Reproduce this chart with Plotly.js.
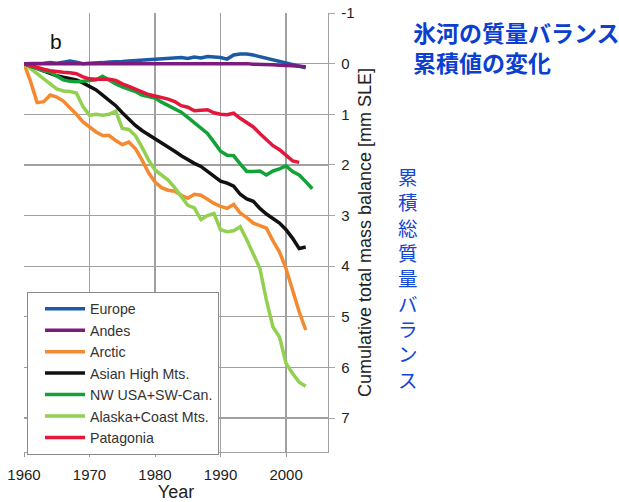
<!DOCTYPE html>
<html>
<head>
<meta charset="utf-8">
<script src="https://cdn.plot.ly/plotly-3.0.1.min.js"></script>
<style>html,body{margin:0;padding:0;background:#fff;}#chart{width:619px;height:502px;}</style>
</head>
<body>
<div id="chart"></div>
<script>
var yearsEurope = [1960,1961,1962,1963,1964,1965,1966,1967,1968,1969,1970,1971,1972,1973,1974,1975,1976,1977,1978,1979,1980,1981,1982,1983,1984,1985,1986,1987,1988,1989,1990,1991,1992,1993,1994,1995,1996,1997,1998,1999,2000,2001,2002,2003];
var europe = [0,0,0,-0.01,-0.02,-0.01,-0.03,-0.05,-0.03,0,-0.01,-0.01,-0.02,-0.03,-0.03,-0.04,-0.05,-0.06,-0.06,-0.08,-0.08,-0.09,-0.1,-0.11,-0.12,-0.1,-0.13,-0.11,-0.14,-0.13,-0.12,-0.09,-0.17,-0.19,-0.19,-0.17,-0.14,-0.1,-0.07,-0.05,-0.02,0.02,0.05,0.08];
var yearsAndes = yearsEurope;
var andes = [0,0,0,0,0,0,0,0,0,0,0,0,0,0,0,0,0,0,0,0,0,-0.01,-0.01,-0.01,-0.01,-0.01,-0.01,-0.01,-0.01,-0.01,-0.01,0,0,0,0,0.01,0.01,0.02,0.02,0.03,0.03,0.04,0.05,0.06];
var yearsArctic = yearsEurope;
var arctic = [0,0.35,0.77,0.75,0.62,0.66,0.74,0.86,1.0,1.15,1.25,1.35,1.42,1.42,1.52,1.6,1.55,1.68,1.9,2.15,2.34,2.45,2.5,2.52,2.6,2.66,2.58,2.6,2.68,2.76,2.82,2.86,2.78,2.95,3.04,3.15,3.2,3.25,3.5,3.72,4.05,4.5,4.9,5.26];
var yearsAsian = yearsEurope;
var asian = [0,0.05,0.1,0.15,0.2,0.24,0.27,0.3,0.32,0.38,0.45,0.52,0.62,0.72,0.83,0.97,1.1,1.22,1.32,1.4,1.47,1.55,1.63,1.73,1.82,1.9,1.97,2.03,2.12,2.22,2.32,2.36,2.42,2.58,2.67,2.72,2.86,2.97,3.06,3.15,3.28,3.45,3.65,3.62];
var yearsNWUSA = [1960,1961,1962,1963,1964,1965,1966,1967,1968,1969,1970,1971,1972,1973,1974,1975,1976,1977,1978,1979,1980,1981,1982,1983,1984,1985,1986,1987,1988,1989,1990,1991,1992,1993,1994,1995,1996,1997,1998,1999,2000,2001,2002,2003,2004];
var nwusa = [0,0.05,0.1,0.14,0.17,0.25,0.32,0.35,0.36,0.35,0.34,0.32,0.25,0.33,0.4,0.46,0.5,0.55,0.62,0.65,0.68,0.76,0.83,0.9,0.96,1.06,1.16,1.26,1.38,1.55,1.73,1.81,1.82,1.98,2.13,2.13,2.12,2.2,2.12,2.08,2.02,2.13,2.2,2.33,2.47];
var yearsAlaska = yearsEurope;
var alaska = [0,0.1,0.2,0.3,0.4,0.5,0.54,0.55,0.58,0.85,1.02,1.0,1.02,1.0,0.94,1.28,1.3,1.42,1.65,1.9,2.1,2.2,2.3,2.45,2.62,2.8,2.85,3.08,3.0,2.96,3.28,3.32,3.3,3.22,3.48,3.75,4.04,4.67,5.2,5.4,5.92,6.12,6.29,6.37];
var yearsPatagonia = [1960,1961,1962,1963,1964,1965,1966,1967,1968,1969,1970,1971,1972,1973,1974,1975,1976,1977,1978,1979,1980,1981,1982,1983,1984,1985,1986,1987,1988,1989,1990,1991,1992,1993,1994,1995,1996,1997,1998,1999,2000,2001,2002];
var patagonia = [0,0.04,0.08,0.11,0.14,0.16,0.17,0.18,0.2,0.26,0.3,0.31,0.31,0.31,0.33,0.4,0.45,0.5,0.56,0.61,0.64,0.67,0.7,0.75,0.83,0.86,0.93,0.92,0.91,0.97,1.0,1.01,0.98,1.08,1.16,1.25,1.38,1.5,1.62,1.7,1.82,1.92,1.95];

var seriesNames = ["Europe","Andes","Arctic","Asian High Mts.","NW USA+SW-Can.","Alaska+Coast Mts.","Patagonia"];
var seriesX = [yearsEurope,yearsAndes,yearsArctic,yearsAsian,yearsNWUSA,yearsAlaska,yearsPatagonia];
var seriesY = [europe,andes,arctic,asian,nwusa,alaska,patagonia];
var seriesColors = ["#1a5ba6","#7b1c7d","#f5892f","#111111","#12a238","#92d050","#e3173b"];

var xTickVals = [1960,1970,1980,1990,2000];
var xTickText = ["1960","1970","1980","1990","2000"];
var yTickVals = [-1,0,1,2,3,4,5,6,7];
var yTickText = ["-1","0","1","2","3","4","5","6","7"];

var titleJa = "氷河の質量バランス<br>累積値の変化";
var sideJa = "累積総質量バランス";
var panelLabel = "b";

var traces = seriesNames.map(function(n,i){
  return {x: seriesX[i], y: seriesY[i], name: n, type: 'scatter', mode: 'lines',
          line: {color: seriesColors[i], width: 3.5}, legendrank: i + 1};
});
// draw order: Europe/Andes on top like the original
var drawOrder = [2,5,3,4,6,0,1];
var ordered = drawOrder.map(function(i){ return traces[i]; });

var L = 24, T = 13, W = 304, H = 439;
function px2x(px){ return (px - L)/W; }
function py2y(py){ return (T + H - py)/H; }

var annotations = [
  {text: panelLabel, xref:'paper', yref:'paper', x: px2x(56), y: py2y(41), xanchor:'center', yanchor:'middle', showarrow:false,
   font:{family:'Liberation Sans, Arial, sans-serif', size:21, color:'#111'}},
  {text: titleJa, xref:'paper', yref:'paper', x: px2x(411), y: py2y(47), xanchor:'left', yanchor:'middle', align:'left', showarrow:false,
   font:{family:'Noto Sans CJK JP, sans-serif', size:23, color:'#0b3fd0', weight:'bold'}},
  {text: Array.from(sideJa).join('<br>'), xref:'paper', yref:'paper', x: px2x(408), y: py2y(278),
   xanchor:'center', yanchor:'middle', align:'center', showarrow:false,
   font:{family:'Noto Sans CJK JP, sans-serif', size:19.5, color:'#1446d6'}}
];

var layout = {
  width: 619, height: 502,
  margin: {l: L, t: T, r: 619 - L - W, b: 502 - T - H},
  paper_bgcolor: '#ffffff', plot_bgcolor: '#ffffff',
  font: {family: 'Liberation Sans, Arial, sans-serif', color: '#222'},
  showlegend: true,
  legend: {x: px2x(27), y: py2y(292), xanchor:'left', yanchor:'top', bgcolor:'#ffffff',
           bordercolor:'#8a8a8a', borderwidth:1, itemwidth: 40, indentation: 12,
           font:{family:'Liberation Sans, Arial, sans-serif', size:14.2, color:'#333'},
           traceorder:'normal'},
  xaxis: {range: [1960, 2006.4], tickvals: xTickVals, ticktext: xTickText, ticks:'outside', ticklen:4, tickcolor:'#999',
          ticklabelstandoff: 5,
          showgrid:true, gridcolor:'#a0a0a0', gridwidth:1.2, zeroline:false,
          showline:true, linecolor:'#a0a0a0', linewidth:1.2, mirror:false,
          tickfont:{size:15, color:'#222'},
          title:{text:'Year', font:{size:18, color:'#222'}, standoff:4}, automargin:false, fixedrange:true},
  yaxis: {range: [7.67, -1], side:'right', tickvals: yTickVals, ticktext: yTickText, ticks:'outside', ticklen:6, tickcolor:'#aaa',
          ticklabelstandoff: 3,
          showgrid:true, gridcolor:'#a0a0a0', gridwidth:1.2, zeroline:false,
          showline:true, linecolor:'#a0a0a0', linewidth:1.2,
          tickfont:{size:15, color:'#222'},
          title:{text:'Cumulative total mass balance [mm SLE]', font:{size:18, color:'#222'}, standoff:4},
          automargin:false, fixedrange:true},
  annotations: annotations
};

Plotly.newPlot('chart', ordered, layout, {displayModeBar:false, staticPlot:true});
</script>
</body>
</html>
